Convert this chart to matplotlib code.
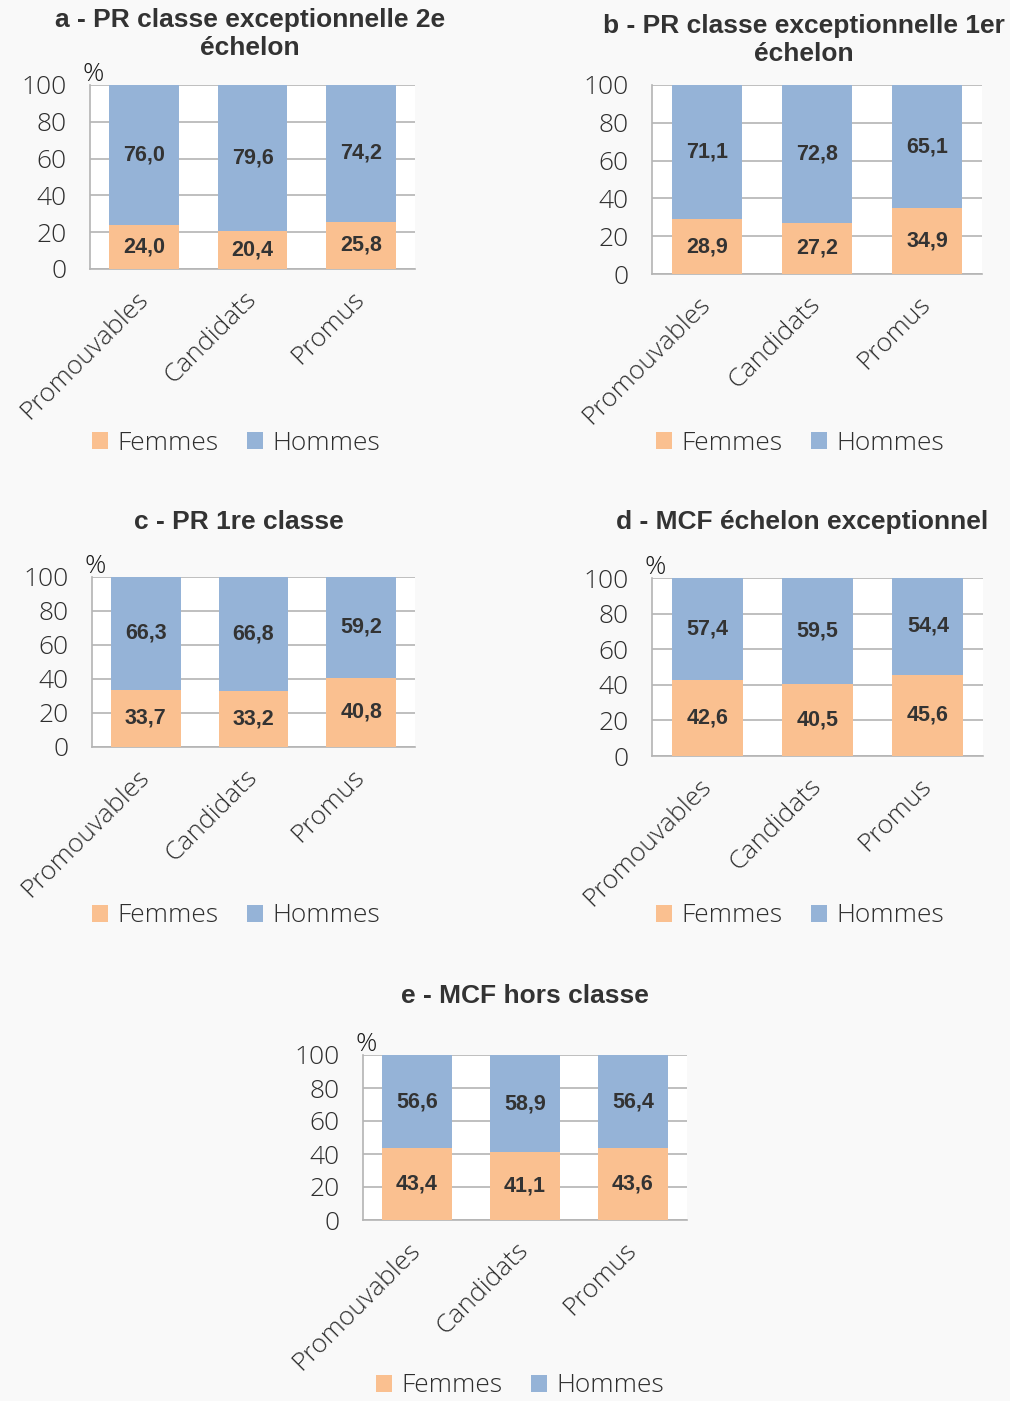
import matplotlib
matplotlib.use('Agg')
import matplotlib.pyplot as plt
import numpy as np

categories = ['Promouvables', 'Candidats', 'Promus']

titles = [
    'a - PR classe exceptionnelle 2e\néchelon',
    'b - PR classe exceptionnelle 1er\néchelon',
    'c - PR 1re classe',
    'd - MCF échelon exceptionnel',
    'e - MCF hors classe',
]

femmes_a = [24.0, 20.4, 25.8]
hommes_a = [76.0, 79.6, 74.2]
femmes_b = [28.9, 27.2, 34.9]
hommes_b = [71.1, 72.8, 65.1]
femmes_c = [33.7, 33.2, 40.8]
hommes_c = [66.3, 66.8, 59.2]
femmes_d = [42.6, 40.5, 45.6]
hommes_d = [57.4, 59.5, 54.4]
femmes_e = [43.4, 41.1, 43.6]
hommes_e = [56.6, 58.9, 56.4]

femmes = [femmes_a, femmes_b, femmes_c, femmes_d, femmes_e]
hommes = [hommes_a, hommes_b, hommes_c, hommes_d, hommes_e]
show_pct = [True, False, True, True, True]

# --- Colours / fonts ---
ORANGE = '#FAC090'
BLUE = '#95B3D7'
GRID = '#b4b4b4'
TXT = '#2e2e2e'
BG = '#f9f9f9'
LIGHT_FONT = ['Open Sans', 'DejaVu Sans']
BOLD_FONT = ['Liberation Sans', 'DejaVu Sans']
TICK_SIZE = 19

W, H = 1010, 1401
fig = plt.figure(figsize=(W / 100, H / 100), dpi=100, facecolor=BG)

# panel boxes in pixels: left, right, top, bottom
boxes = [
    (90, 415, 85, 269),
    (652, 982, 85, 274),
    (92, 415, 577, 747),
    (652, 983, 578, 756),
    (363, 687, 1055, 1220),
]
# title centre (x, y) and legend centre (x, y) in pixels
title_pos = [(250, 34), (804, 40), (239, 522), (802, 522), (525, 996)]
legend_pos = [(236, 443), (800, 443), (236, 916), (800, 916), (520, 1386)]


def fmt(v):
    return f'{v:.1f}'.replace('.', ',')


for i in range(5):
    l, r, t, b = boxes[i]
    ax = fig.add_axes([l / W, 1 - b / H, (r - l) / W, (b - t) / H])
    ax.set_facecolor('white')
    x = np.arange(len(categories))
    bf = ax.bar(x, femmes[i], width=0.645, color=ORANGE, label='Femmes', zorder=3)
    bh = ax.bar(x, hommes[i], width=0.645, bottom=femmes[i], color=BLUE,
                label='Hommes', zorder=3)
    for bars, vals in ((bf, femmes[i]), (bh, hommes[i])):
        ax.bar_label(bars, labels=[fmt(v) for v in vals], label_type='center',
                     fontsize=15.5, fontweight='bold', color='#333333',
                     family=BOLD_FONT)

    ax.set_xlim(-0.5, 2.5)
    ax.set_ylim(0, 100)
    ax.set_yticks(range(0, 101, 20))
    ax.yaxis.grid(True, color=GRID, linewidth=1.2, zorder=0)
    ax.set_axisbelow(True)
    for side in ('top', 'right'):
        ax.spines[side].set_visible(False)
    for side in ('left', 'bottom'):
        ax.spines[side].set_color(GRID)
        ax.spines[side].set_linewidth(1.2)
    ax.tick_params(axis='y', length=0, pad=17, labelsize=TICK_SIZE, labelcolor=TXT)
    ax.tick_params(axis='x', length=0, pad=19, labelsize=TICK_SIZE, labelcolor=TXT)
    for lab in ax.get_yticklabels():
        lab.set_family(LIGHT_FONT)
        lab.set_fontweight('light')
    ax.set_xticks(x)
    ax.set_xticklabels(categories, rotation=45, ha='right', va='center',
                       rotation_mode='anchor', family=LIGHT_FONT,
                       fontweight='light')

    if show_pct[i]:
        ax.annotate('%', xy=(0, 1), xycoords='axes fraction', xytext=(2, 7.5),
                    textcoords='offset points', ha='center', va='center',
                    fontsize=19, color='#1a1a1a', family=LIGHT_FONT,
                    fontweight='light')

    tx, ty = title_pos[i]
    fig.text(tx / W, 1 - ty / H, titles[i], ha='center', va='center',
             multialignment='center', fontsize=19, fontweight='bold',
             color='#333333', family=BOLD_FONT, linespacing=1.2)

    lx, ly = legend_pos[i]
    ax.legend(loc='center', bbox_to_anchor=(lx / W, 1 - ly / H),
              bbox_transform=fig.transFigure, ncol=2, frameon=False,
              handlelength=0.6, handleheight=0.6, handletextpad=0.35,
              columnspacing=1.1,
              prop={'family': LIGHT_FONT, 'size': TICK_SIZE, 'weight': 'light'},
              labelcolor=TXT)

fig.savefig('out.png', dpi=100, facecolor=BG)
